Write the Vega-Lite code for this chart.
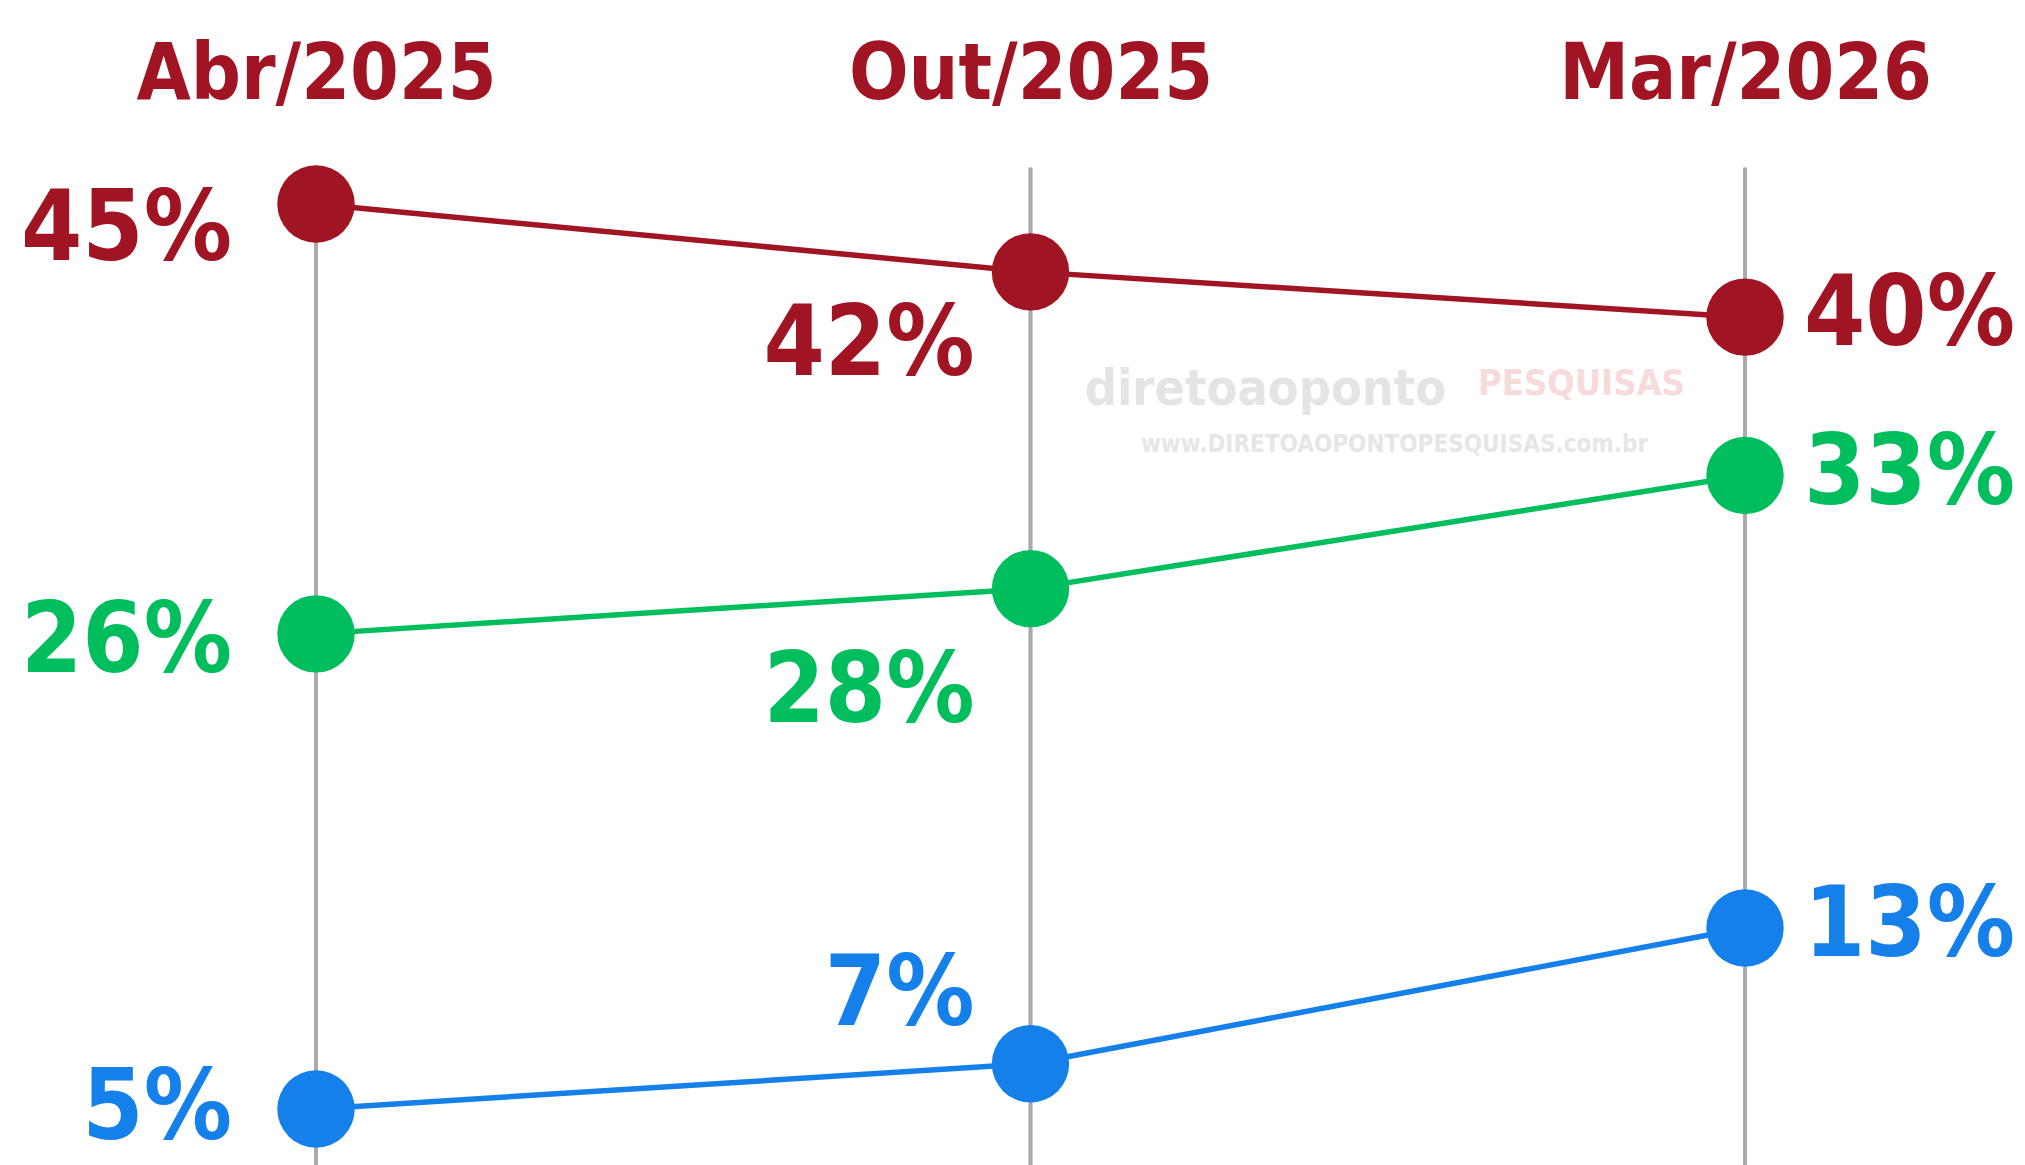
{
  "$schema": "https://vega.github.io/schema/vega-lite/v6.json",
  "autosize": "none",
  "width": 2025,
  "height": 1055,
  "padding": {"left": 0, "right": 0, "top": 110, "bottom": 0},
  "background": "white",
  "config": {"view": {"stroke": null}},
  "data": {
    "values": [
      {"periodo": "Abr/2025", "ordem": 1, "serie": "Série 1", "valor": 0.45},
      {"periodo": "Out/2025", "ordem": 2, "serie": "Série 1", "valor": 0.42},
      {"periodo": "Mar/2026", "ordem": 3, "serie": "Série 1", "valor": 0.40},
      {"periodo": "Abr/2025", "ordem": 1, "serie": "Série 2", "valor": 0.26},
      {"periodo": "Out/2025", "ordem": 2, "serie": "Série 2", "valor": 0.28},
      {"periodo": "Mar/2026", "ordem": 3, "serie": "Série 2", "valor": 0.33},
      {"periodo": "Abr/2025", "ordem": 1, "serie": "Série 3", "valor": 0.05},
      {"periodo": "Out/2025", "ordem": 2, "serie": "Série 3", "valor": 0.07},
      {"periodo": "Mar/2026", "ordem": 3, "serie": "Série 3", "valor": 0.13}
    ]
  },
  "encoding": {
    "x": {
      "field": "periodo",
      "type": "ordinal",
      "sort": ["Abr/2025", "Out/2025", "Mar/2026"],
      "scale": {"type": "point", "range": [316, 1745], "padding": 0},
      "axis": {
        "orient": "top",
        "title": null,
        "domain": false,
        "ticks": false,
        "tickSize": 0,
        "grid": false,
        "labelAngle": 0,
        "labelLimit": 0,
        "labelPadding": 12,
        "labelBaseline": "alphabetic",
        "labelFont": "DejaVu Sans Condensed",
        "labelFontWeight": "bold",
        "labelFontSize": 78,
        "labelColor": "#A01423"
      }
    },
    "y": {
      "field": "valor",
      "type": "quantitative",
      "scale": {"domain": [0.02525, 0.49155], "nice": false, "zero": false},
      "axis": null
    },
    "color": {
      "field": "serie",
      "type": "nominal",
      "scale": {"domain": ["Série 1", "Série 2", "Série 3"], "range": ["#A01423", "#00BE5E", "#1580EA"]},
      "legend": null
    }
  },
  "layer": [
    {
      "transform": [{"filter": "datum.ordem == 2 && datum.serie == 'Série 1'"}],
      "mark": {"type": "text", "align": "center", "baseline": "middle", "dx": 235, "font": "DejaVu Sans Condensed", "fontWeight": "bold", "fontSize": 50},
      "encoding": {
        "x": {"datum": "Out/2025"},
        "y": {"datum": 0.368},
        "text": {"value": "diretoaoponto"},
        "color": {"value": "#E4E4E4"}
      }
    },
    {
      "transform": [{"filter": "datum.ordem == 2 && datum.serie == 'Série 1'"}],
      "mark": {"type": "text", "align": "center", "baseline": "middle", "dx": 551, "font": "DejaVu Sans Condensed", "fontWeight": "bold", "fontSize": 36},
      "encoding": {
        "x": {"datum": "Out/2025"},
        "y": {"datum": 0.3705},
        "text": {"value": "PESQUISAS"},
        "color": {"value": "#F7DADA"}
      }
    },
    {
      "transform": [{"filter": "datum.ordem == 2 && datum.serie == 'Série 1'"}],
      "mark": {"type": "text", "align": "center", "baseline": "middle", "dx": 364, "font": "DejaVu Sans Condensed", "fontWeight": "bold", "fontSize": 24},
      "encoding": {
        "x": {"datum": "Out/2025"},
        "y": {"datum": 0.3435},
        "text": {"value": "www.DIRETOAOPONTOPESQUISAS.com.br"},
        "color": {"value": "#E6E6E6"}
      }
    },
    {
      "mark": {"type": "rule", "strokeWidth": 3.5},
      "encoding": {
        "y": {"datum": 0.466},
        "y2": {"datum": 0.02525},
        "color": {"value": "#AAAAAA"}
      }
    },
    {
      "mark": {"type": "line", "strokeWidth": 5.5},
      "encoding": {"order": {"field": "ordem"}}
    },
    {
      "mark": {"type": "circle", "size": 6000, "opacity": 1}
    },
    {
      "transform": [{"filter": "datum.periodo == 'Abr/2025' && datum.serie == 'Série 1'"}],
      "mark": {"type": "text", "align": "right", "baseline": "middle", "dx": -84, "dy": 27, "font": "DejaVu Sans Condensed", "fontWeight": "bold", "fontSize": 98},
      "encoding": {"text": {"field": "valor", "type": "quantitative", "format": ".0%"}}
    },
    {
      "transform": [{"filter": "datum.periodo == 'Abr/2025' && datum.serie == 'Série 2'"}],
      "mark": {"type": "text", "align": "right", "baseline": "middle", "dx": -84, "dy": 9, "font": "DejaVu Sans Condensed", "fontWeight": "bold", "fontSize": 98},
      "encoding": {"text": {"field": "valor", "type": "quantitative", "format": ".0%"}}
    },
    {
      "transform": [{"filter": "datum.periodo == 'Abr/2025' && datum.serie == 'Série 3'"}],
      "mark": {"type": "text", "align": "right", "baseline": "middle", "dx": -84, "dy": 1, "font": "DejaVu Sans Condensed", "fontWeight": "bold", "fontSize": 98},
      "encoding": {"text": {"field": "valor", "type": "quantitative", "format": ".0%"}}
    },
    {
      "transform": [{"filter": "datum.periodo == 'Out/2025' && datum.serie == 'Série 1'"}],
      "mark": {"type": "text", "align": "right", "baseline": "middle", "dx": -56, "dy": 74, "font": "DejaVu Sans Condensed", "fontWeight": "bold", "fontSize": 98},
      "encoding": {"text": {"field": "valor", "type": "quantitative", "format": ".0%"}}
    },
    {
      "transform": [{"filter": "datum.periodo == 'Out/2025' && datum.serie == 'Série 2'"}],
      "mark": {"type": "text", "align": "right", "baseline": "middle", "dx": -56, "dy": 104, "font": "DejaVu Sans Condensed", "fontWeight": "bold", "fontSize": 98},
      "encoding": {"text": {"field": "valor", "type": "quantitative", "format": ".0%"}}
    },
    {
      "transform": [{"filter": "datum.periodo == 'Out/2025' && datum.serie == 'Série 3'"}],
      "mark": {"type": "text", "align": "right", "baseline": "middle", "dx": -56, "dy": -68, "font": "DejaVu Sans Condensed", "fontWeight": "bold", "fontSize": 98},
      "encoding": {"text": {"field": "valor", "type": "quantitative", "format": ".0%"}}
    },
    {
      "transform": [{"filter": "datum.periodo == 'Mar/2026'"}],
      "mark": {"type": "text", "align": "left", "baseline": "middle", "dx": 59, "dy": -1, "font": "DejaVu Sans Condensed", "fontWeight": "bold", "fontSize": 98},
      "encoding": {"text": {"field": "valor", "type": "quantitative", "format": ".0%"}}
    }
  ]
}
